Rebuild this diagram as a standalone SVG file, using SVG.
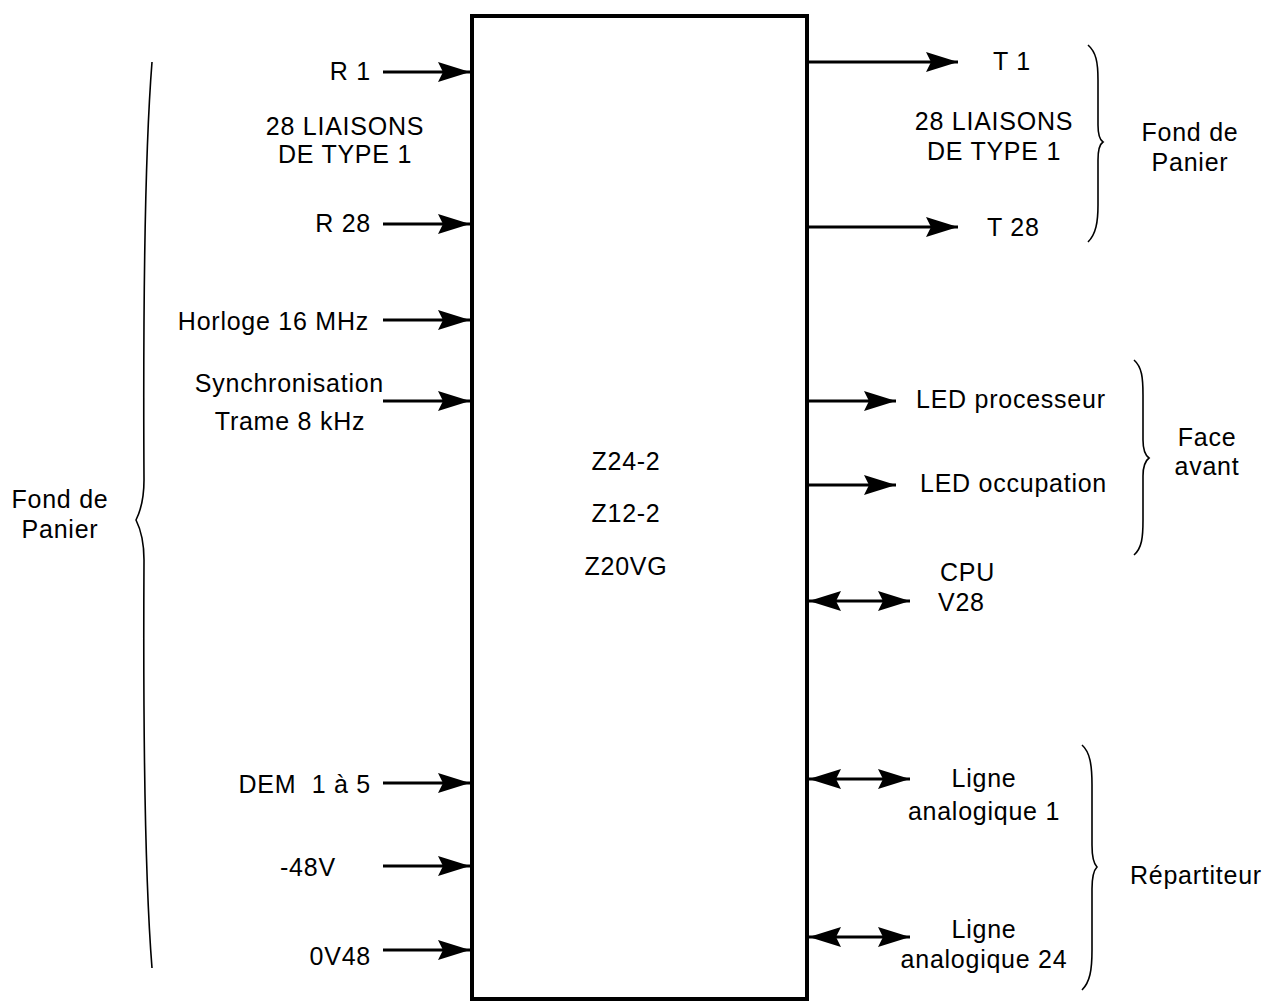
<svg xmlns="http://www.w3.org/2000/svg" width="1263" height="1001" viewBox="0 0 1263 1001">
<style>
text{font-family:"Liberation Sans",Arial,sans-serif;font-size:25px;letter-spacing:0.75px;fill:#000}
.e{text-anchor:end}.m{text-anchor:middle}
.w{stroke:#000;stroke-width:2.8;fill:none}
.b{stroke:#000;stroke-width:1.6;fill:none}
</style>
<defs>
<marker id="ah" markerUnits="userSpaceOnUse" markerWidth="34" markerHeight="22" refX="32" refY="11" orient="auto-start-reverse" viewBox="0 0 34 22">
<path d="M0,1 L32,11 L0,21 L5,11 Z" fill="#000"/>
</marker>
</defs>
<rect width="1263" height="1001" fill="#fff"/>
<g id="box"><rect x="472" y="16" width="335" height="983" fill="none" stroke="#000" stroke-width="4"/>
<text class="m" x="626" y="470">Z24-2</text><text class="m" x="626" y="522">Z12-2</text><text class="m" x="626" y="575">Z20VG</text></g>
<g id="connectors">
<path class="w" d="M383,72H470" marker-end="url(#ah)"/>
<path class="w" d="M383,224H470" marker-end="url(#ah)"/>
<path class="w" d="M383,320H470" marker-end="url(#ah)"/>
<path class="w" d="M383,401H470" marker-end="url(#ah)"/>
<path class="w" d="M383,783H470" marker-end="url(#ah)"/>
<path class="w" d="M383,866H470" marker-end="url(#ah)"/>
<path class="w" d="M383,950H470" marker-end="url(#ah)"/>
<path class="w" d="M809,62H958" marker-end="url(#ah)"/>
<path class="w" d="M809,227H958" marker-end="url(#ah)"/>
<path class="w" d="M809,401H896" marker-end="url(#ah)"/>
<path class="w" d="M809,485H896" marker-end="url(#ah)"/>
<path class="w" d="M809,601H910" marker-start="url(#ah)" marker-end="url(#ah)"/>
<path class="w" d="M809,779H910" marker-start="url(#ah)" marker-end="url(#ah)"/>
<path class="w" d="M809,937H910" marker-start="url(#ah)" marker-end="url(#ah)"/>
</g>
<g id="left-labels">
<text class="e" x="371" y="80">R 1</text>
<text class="m" x="345" y="135">28 LIAISONS</text><text class="m" x="345" y="163">DE TYPE 1</text>
<text class="e" x="371" y="232">R 28</text>
<text class="e" x="369" y="330">Horloge 16 MHz</text>
<text class="e" x="384" y="392">Synchronisation</text>
<text class="m" x="290" y="430">Trame 8 kHz</text>
<text class="e" x="371" y="793" xml:space="preserve">DEM  1 à 5</text>
<text x="280" y="876">-48V</text>
<text class="e" x="371" y="965">0V48</text>
</g>
<g id="left-brace">
<path class="b" d="M152,62 C145,150 143,300 144,480 C144,500 140,512 136,520 C140,528 144,540 144,560 C143,740 145,880 152,968"/>
<text class="m" x="60" y="508">Fond de</text><text class="m" x="60" y="538">Panier</text>
</g>
<g id="right-top">
<text x="993" y="70">T 1</text>
<text class="m" x="994" y="130">28 LIAISONS</text><text class="m" x="994" y="160">DE TYPE 1</text>
<text x="987" y="236">T 28</text>
<path class="b" d="M1088,45 C1096,52 1098,62 1098,80 L1098,125 C1098,135 1100,140 1103,142 C1100,144 1098,150 1098,160 L1098,205 C1098,222 1096,234 1088,242"/>
<text class="m" x="1190" y="141">Fond de</text><text class="m" x="1190" y="171">Panier</text>
</g>
<g id="right-mid">
<text x="916" y="408">LED processeur</text>
<text x="920" y="492">LED occupation</text>
<path class="b" d="M1134,360 C1142,367 1143,378 1143,395 L1143,440 C1143,450 1145,455 1149,458 C1145,461 1143,466 1143,476 L1143,520 C1143,537 1142,548 1134,555"/>
<text class="m" x="1207" y="446">Face</text><text class="m" x="1207" y="475">avant</text>
<text x="940" y="581">CPU</text><text x="938" y="611">V28</text>
</g>
<g id="right-bottom">
<text class="m" x="984" y="787">Ligne</text><text class="m" x="984" y="820">analogique 1</text>
<text class="m" x="984" y="938">Ligne</text><text class="m" x="984" y="968">analogique 24</text>
<path class="b" d="M1082,745 C1090,752 1092,765 1092,785 L1092,845 C1092,857 1094,864 1097,867 C1094,870 1092,877 1092,889 L1092,950 C1092,970 1090,982 1082,990"/>
<text x="1130" y="884">Répartiteur</text>
</g>
</svg>
